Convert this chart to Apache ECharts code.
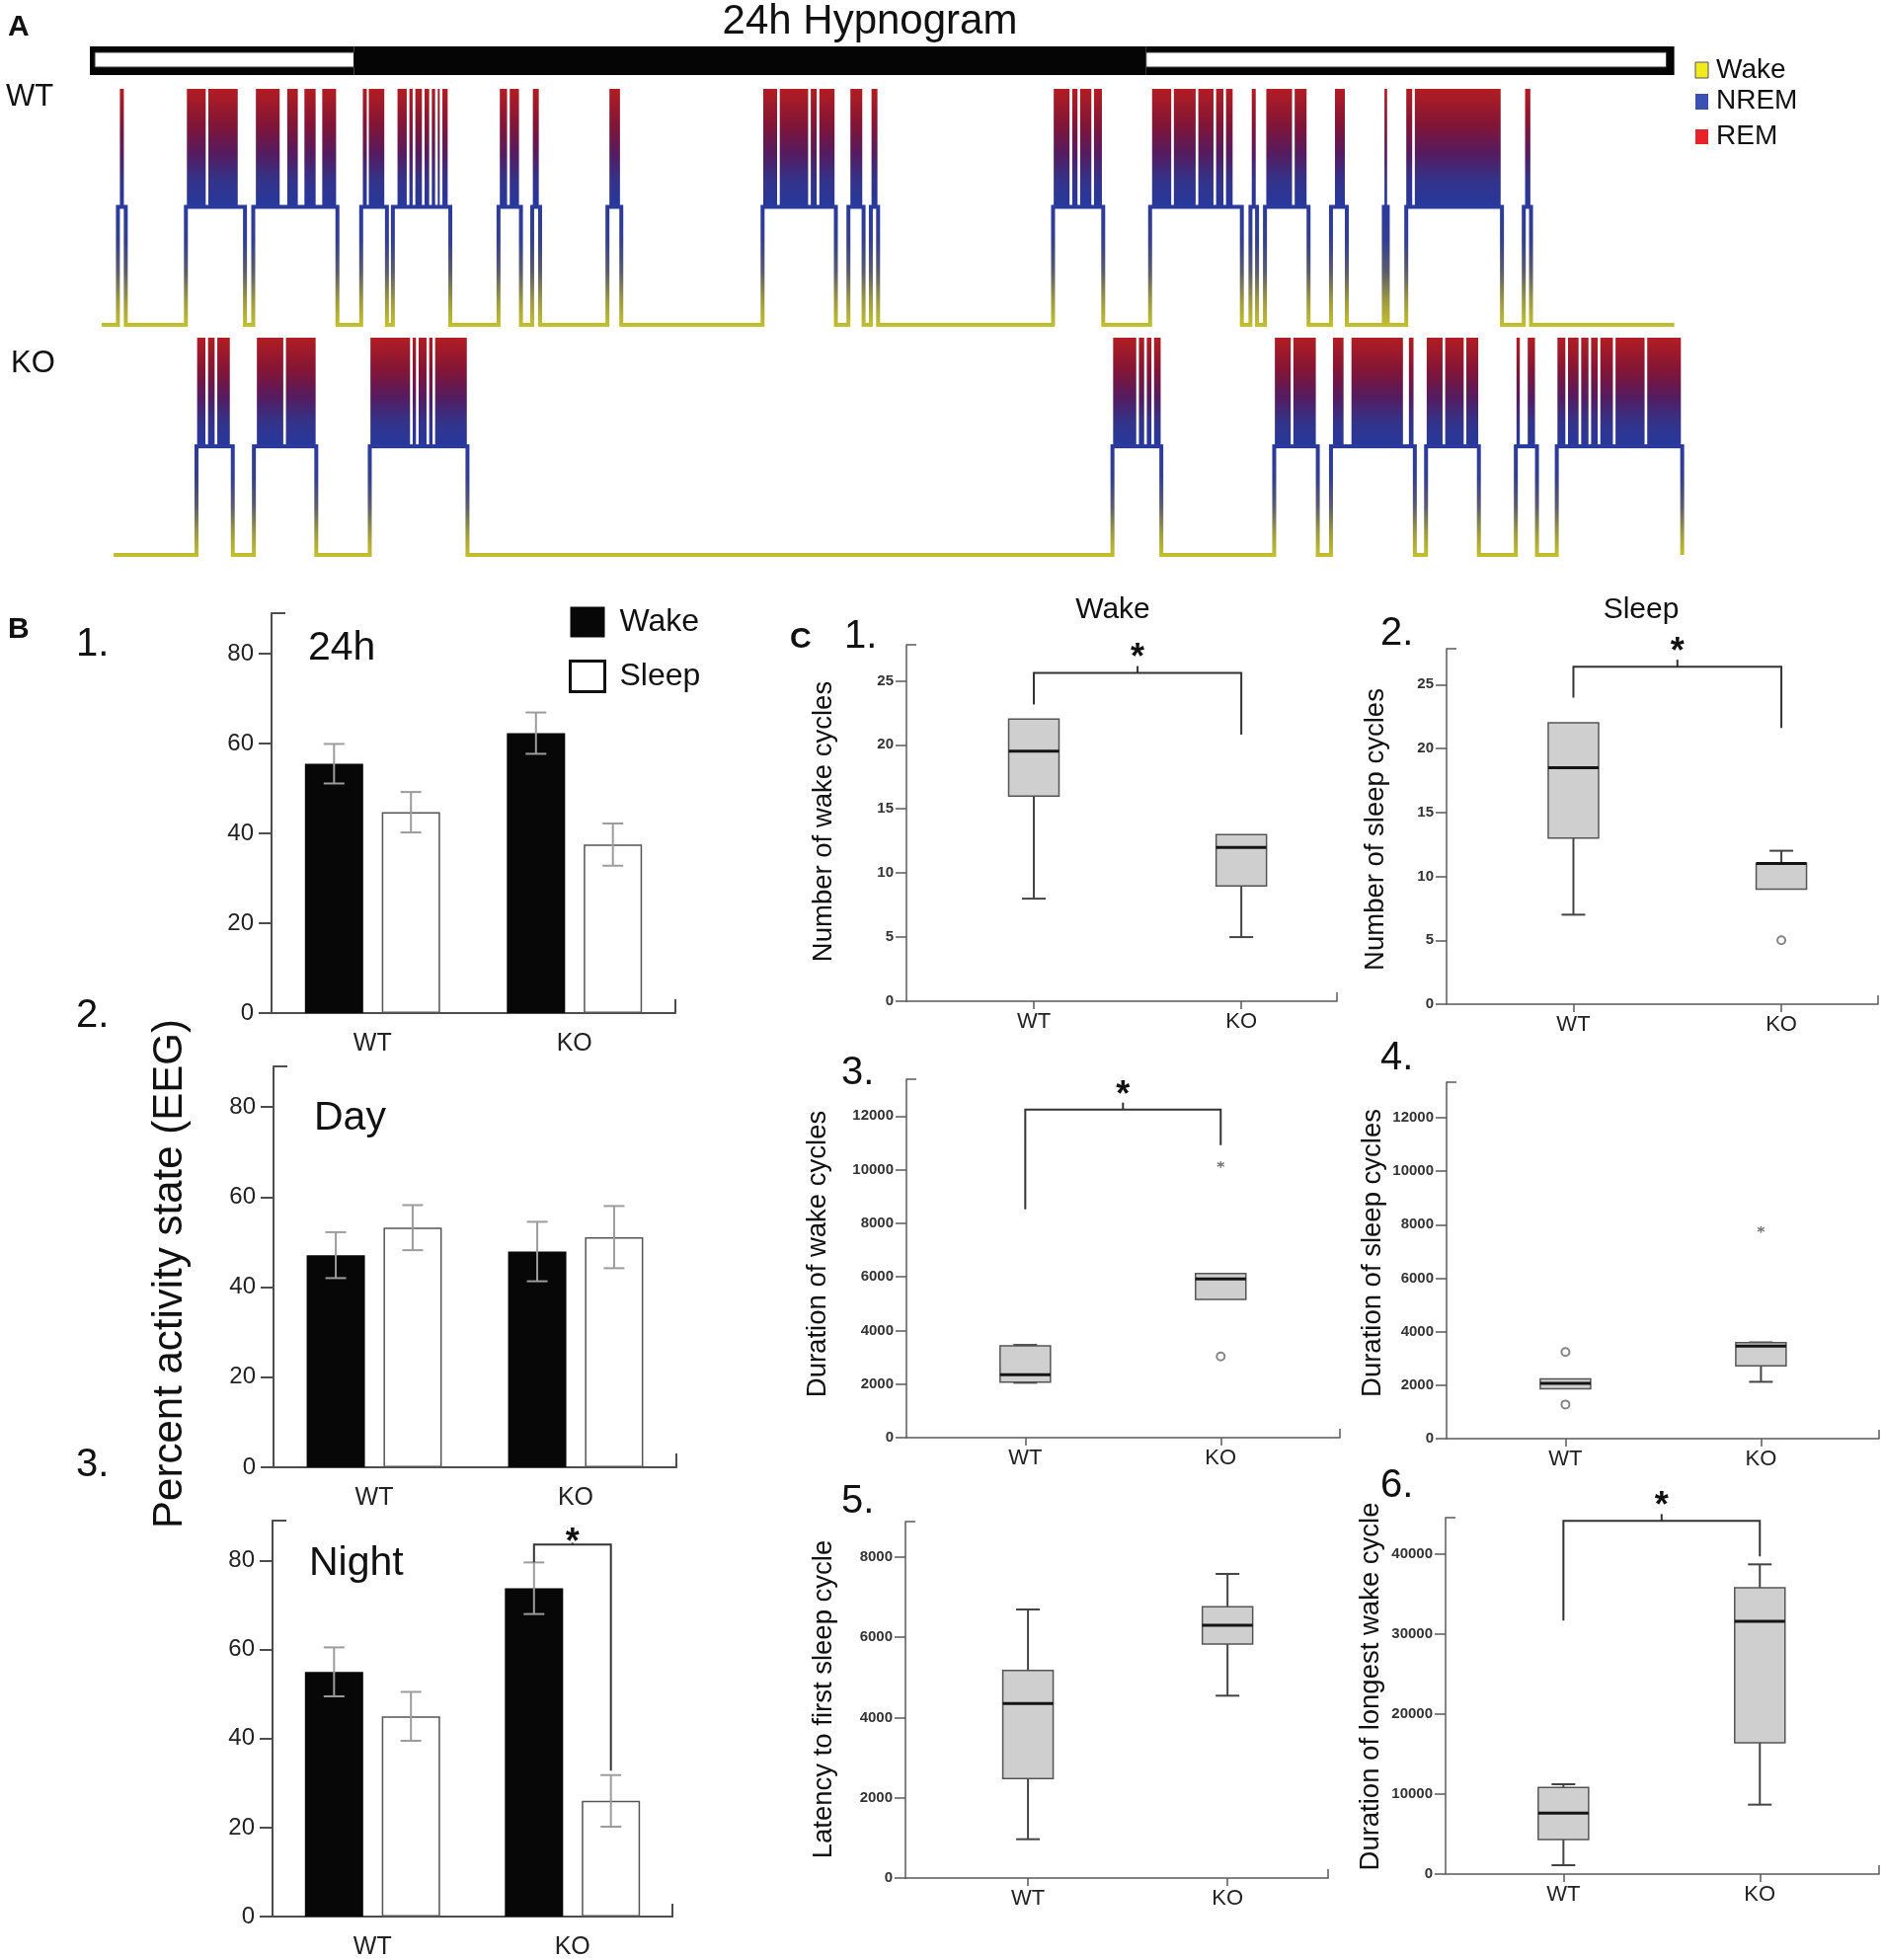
<!DOCTYPE html>
<html>
<head>
<meta charset="utf-8">
<title>24h Hypnogram</title>
<script src="https://cdn.jsdelivr.net/npm/echarts@6/dist/echarts.min.js"></script>
<style>
html, body { margin: 0; padding: 0; background: #fff; }
#fig { width: 1907px; height: 1985px; }
</style>
</head>
<body>
<div id="fig"></div>
<script>
// ---------- A: hypnogram, times in hours ----------
var photoperiod = [['light', 0, 4], ['dark', 4, 16], ['light', 16, 24]];

var wtRange = [0.18, 24.0];
// NREM bouts [start, end]; REM blocks sit on top of them
var wtBouts = [
  [0.425, 0.544], [1.455, 2.35], [2.475, 3.75], [4.11, 4.50], [4.59, 5.46],
  [6.19, 6.53], [6.70, 6.82], [7.84, 8.05], [10.19, 11.30], [11.49, 11.72],
  [11.83, 11.94], [14.59, 15.35], [16.06, 17.45], [17.58, 17.68], [17.80, 18.46],
  [18.80, 19.04], [19.60, 19.66], [19.94, 21.39], [21.72, 21.83]
];
var wtRem = [
  [0.455, 0.515],
  [1.47, 1.755], [1.795, 2.24],
  [2.515, 2.875], [2.99, 3.15], [3.25, 3.42], [3.52, 3.73],
  [4.135, 4.195], [4.225, 4.46],
  [4.66, 4.80], [4.84, 4.89], [4.93, 5.03], [5.07, 5.14], [5.18, 5.23], [5.27, 5.30], [5.34, 5.42],
  [6.21, 6.32], [6.36, 6.50],
  [6.71, 6.80],
  [7.87, 8.03],
  [10.20, 10.41], [10.45, 10.88], [10.92, 11.01], [11.05, 11.28],
  [11.52, 11.70],
  [11.84, 11.93],
  [14.60, 14.84], [14.88, 14.96], [15.00, 15.17], [15.21, 15.33],
  [16.09, 16.38], [16.42, 16.75], [16.79, 17.02], [17.06, 17.17], [17.21, 17.31],
  [17.60, 17.66],
  [17.82, 18.21], [18.25, 18.43],
  [18.86, 19.01],
  [19.61, 19.65],
  [19.94, 20.03], [20.07, 21.37],
  [21.74, 21.82]
];

var koRange = [0.36, 24.12];
var koBouts = [
  [1.615, 2.165], [2.485, 3.43], [4.24, 5.72], [15.49, 16.23], [17.94, 18.60],
  [18.80, 20.07], [20.24, 21.04], [21.60, 21.92], [22.22, 24.12]
];
var koRem = [
  [1.625, 1.75], [1.79, 1.89], [1.93, 2.12],
  [2.53, 2.93], [2.97, 3.42],
  [4.25, 4.85], [4.89, 4.94], [4.98, 5.10], [5.14, 5.19], [5.23, 5.71],
  [15.50, 15.85], [15.89, 15.97], [16.01, 16.08], [16.12, 16.22],
  [17.95, 18.19], [18.23, 18.57],
  [18.83, 18.99], [19.11, 19.89], [19.98, 20.05],
  [20.25, 20.49], [20.53, 20.81], [20.85, 21.03],
  [21.61, 21.66], [21.78, 21.89],
  [22.23, 22.35], [22.39, 22.55], [22.59, 22.70], [22.74, 22.84], [22.88, 23.07], [23.11, 23.55], [23.59, 24.10]
];

// ---------- B: percent activity state, mean and sem ----------
var groups = ['WT', 'KO'];
var b24Wake = [55.5, 62.3],  b24WakeSem = [4.4, 4.6];
var b24Sleep = [44.7, 37.5], b24SleepSem = [4.5, 4.7];
var bDayWake = [47.1, 47.9],  bDayWakeSem = [5.1, 6.6];
var bDaySleep = [53.2, 51.1], bDaySleepSem = [5.0, 6.9];
var bNightWake = [55.0, 73.8],  bNightWakeSem = [5.5, 5.8];
var bNightSleep = [45.0, 26.0], bNightSleepSem = [5.5, 5.8];
var bNightBracket = [79.6, 83.6, 32.8]; // KO wake end, top, KO sleep end

// ---------- C: box plots [min, q1, median, q3, max] ----------
var c1WT = [8, 16, 19.5, 22, 22],            c1KO = [5, 9, 12, 13, 13];
var c2WT = [7, 13, 18.5, 22, 22],            c2KO = [9, 9, 11, 11, 12];
var c3WT = [2050, 2075, 2350, 3426, 3460],   c3KO = [5160, 5160, 5920, 6130, 6130];
var c4WT = [1867, 1867, 2064, 2236, 2236],   c4KO = [2125, 2727, 3464, 3587, 3600];
var c5WT = [968, 2478, 4349, 5177, 6695],    c5KO = [4546, 5834, 6302, 6761, 7582];
var c6WT = [1110, 4317, 7605, 10813, 11224], c6KO = [8675, 16404, 31575, 35770, 38690];
var c2Outliers = [['KO', 5]];
var c3Outliers = [['KO', 3030]], c3Extremes = [['KO', 10190]];
var c4Outliers = [['WT', 3242], ['WT', 1278]], c4Extremes = [['KO', 7823]];
var c1Bracket = [23.15, 25.6, 20.8];
var c2Bracket = [23.97, 26.4, 21.6];
var c3Bracket = [8520, 12245, 10918];
var c6Bracket = [31660, 44115, 39675];

// ---------- layout ----------
var FONT = "'Liberation Sans', Arial, Helvetica, sans-serif";
var FAM = 'Liberation Sans';
var BAR_W = 59, BAR_GAP = 0.32;
var BAR_OFF = (BAR_W + BAR_W * BAR_GAP) / 2;

var hypGrids = [
  {left: 91, top: 47, width: 1618, height: 29},
  {left: 91, top: 90, width: 1618, height: 239},
  {left: 91, top: 342, width: 1618, height: 220}
];
var bGrids = [
  {left: 275, top: 621, width: 409, height: 405},
  {left: 277, top: 1080, width: 408, height: 406},
  {left: 276, top: 1540, width: 405, height: 402}
];
var cGrids = [
  {left: 918, top: 653, width: 436, height: 361},
  {left: 1465, top: 657, width: 437, height: 360},
  {left: 918, top: 1093, width: 439, height: 363},
  {left: 1465, top: 1096, width: 438, height: 361},
  {left: 917, top: 1541, width: 428, height: 361},
  {left: 1464, top: 1537, width: 439, height: 361}
];
// group axis extent for each C panel (group index units)
var cXRange = [[-0.614, 1.461], [-0.610, 1.465], [-0.608, 1.610], [-0.608, 1.604], [-0.614, 1.504], [-0.600, 1.607]];
var cMax = [27.8, 27.8, 13375, 13330, 8886, 44527];
var cStep = [5, 5, 2000, 2000, 2000, 10000];

function tickList(max, step) {
  var a = [];
  for (var v = 0; v <= max + 1e-9; v += step) a.push(v);
  return a;
}

var remGrad = function () {
  return new echarts.graphic.LinearGradient(0, 0, 0, 1, [
    {offset: 0, color: '#b21d22'}, {offset: 0.3, color: '#831536'},
    {offset: 0.55, color: '#561b5f'}, {offset: 0.78, color: '#333389'},
    {offset: 1, color: '#27389c'}
  ]);
};
var lineGrad = new echarts.graphic.LinearGradient(0, 0, 0, 1, [
  {offset: 0, color: '#2a3a9e'}, {offset: 0.3, color: '#34408e'},
  {offset: 0.55, color: '#5c5c6c'}, {offset: 0.8, color: '#a19d3e'},
  {offset: 1, color: '#c5c12d'}
]);

function traceLine(range, bouts) {
  var pts = [[range[0], 0]];
  bouts.forEach(function (b) {
    pts.push([b[0], 0], [b[0], 1], [b[1], 1], [b[1], 0]);
  });
  pts.push([range[1], 0]);
  return pts;
}

function remSeries(idx, blocks) {
  return {
    type: 'custom', xAxisIndex: idx, yAxisIndex: idx, silent: true, z: 2,
    data: blocks,
    renderItem: function (params, api) {
      var p0 = api.coord([api.value(0), 2]);
      var p1 = api.coord([api.value(1), 1]);
      return {
        type: 'rect',
        shape: {x: p0[0], y: p0[1], width: Math.max(p1[0] - p0[0], 1.5), height: p1[1] - p0[1] - 1},
        style: {fill: remGrad()}
      };
    }
  };
}

function traceSeries(idx, range, bouts) {
  return {
    type: 'line', xAxisIndex: idx, yAxisIndex: idx, silent: true, z: 3,
    data: traceLine(range, bouts), symbol: 'none', animation: false,
    lineStyle: {width: 4, color: lineGrad, join: 'miter'}
  };
}

function errRows(mean, sem, slot) {
  return mean.map(function (m, i) { return [i, m, sem[i], slot]; });
}

function errSeries(idx, rows) {
  return {
    type: 'custom', xAxisIndex: idx, yAxisIndex: idx, silent: true, z: 4,
    data: rows,
    renderItem: function (params, api) {
      var cat = api.value(0), m = api.value(1), s = api.value(2), slot = api.value(3);
      var x = api.coord([cat, m])[0] + (slot === 0 ? -BAR_OFF : BAR_OFF);
      var yt = api.coord([cat, m + s])[1], yb = api.coord([cat, m - s])[1];
      var st = {stroke: '#9c9c9c', lineWidth: 2, fill: 'none'};
      return {type: 'group', children: [
        {type: 'line', shape: {x1: x, y1: yt, x2: x, y2: yb}, style: st},
        {type: 'line', shape: {x1: x - 10.5, y1: yt, x2: x + 10.5, y2: yt}, style: st},
        {type: 'line', shape: {x1: x - 10.5, y1: yb, x2: x + 10.5, y2: yb}, style: st}
      ]};
    }
  };
}

function barPair(idx, wake, sleep) {
  return [
    {type: 'bar', name: 'Wake', xAxisIndex: idx, yAxisIndex: idx, data: wake,
      barWidth: BAR_W, barGap: (BAR_GAP * 100) + '%', silent: true,
      itemStyle: {color: '#070707'}},
    {type: 'bar', name: 'Sleep', xAxisIndex: idx, yAxisIndex: idx, data: sleep,
      barWidth: BAR_W, barGap: (BAR_GAP * 100) + '%', silent: true,
      itemStyle: {color: '#ffffff', borderColor: '#555', borderWidth: 1.5}}
  ];
}

function boxSeries(idx, wt, ko) {
  return {
    type: 'custom', xAxisIndex: idx, yAxisIndex: idx, silent: true, z: 3,
    data: [[0].concat(wt), [1].concat(ko)],
    renderItem: function (params, api) {
      var cat = api.value(0);
      var v = [1, 2, 3, 4, 5].map(function (d) { return api.value(d); });
      var x = api.coord([cat, 0])[0];
      var y = v.map(function (val) { return api.coord([cat, val])[1]; });
      var hw = 25.5, cw = 12;
      var wl = {stroke: '#444', lineWidth: 2, fill: 'none'};
      var ch = [];
      if (v[4] > v[3]) {
        ch.push({type: 'line', shape: {x1: x, y1: y[3], x2: x, y2: y[4]}, style: wl});
        ch.push({type: 'line', shape: {x1: x - cw, y1: y[4], x2: x + cw, y2: y[4]}, style: wl});
      }
      if (v[0] < v[1]) {
        ch.push({type: 'line', shape: {x1: x, y1: y[1], x2: x, y2: y[0]}, style: wl});
        ch.push({type: 'line', shape: {x1: x - cw, y1: y[0], x2: x + cw, y2: y[0]}, style: wl});
      }
      ch.push({type: 'rect', shape: {x: x - hw, y: y[3], width: 2 * hw, height: y[1] - y[3]},
        style: {fill: '#cfcfcf', stroke: '#555', lineWidth: 1.5}});
      ch.push({type: 'line', shape: {x1: x - hw, y1: y[2], x2: x + hw, y2: y[2]},
        style: {stroke: '#141414', lineWidth: 3, fill: 'none'}});
      return {type: 'group', children: ch};
    }
  };
}

function catRows(list) {
  return list.map(function (p) { return [groups.indexOf(p[0]), p[1]]; });
}

function outlierSeries(idx, list) {
  return {
    type: 'scatter', xAxisIndex: idx, yAxisIndex: idx, silent: true, z: 4,
    data: catRows(list), symbol: 'emptyCircle', symbolSize: 8,
    itemStyle: {color: '#666', borderWidth: 1.5}
  };
}

function extremeSeries(idx, list) {
  return {
    type: 'scatter', xAxisIndex: idx, yAxisIndex: idx, silent: true, z: 4,
    data: catRows(list),
    symbol: 'path://M0,-5L0,5M-4.33,-2.5L4.33,2.5M-4.33,2.5L4.33,-2.5',
    symbolSize: 7,
    itemStyle: {color: 'transparent', borderColor: '#555', borderWidth: 1.3}
  };
}

// bracket row: [left end, top, right end]; offsets shift arms off the group centre
function bracketSeries(idx, row, leftCat, rightCat, offL, offR, tick, starLift) {
  return {
    type: 'custom', xAxisIndex: idx, yAxisIndex: idx, silent: true, z: 5,
    data: [[leftCat].concat(row)],
    renderItem: function (params, api) {
      var xl = api.coord([leftCat, 0])[0] + offL;
      var xr = api.coord([rightCat, 0])[0] + offR;
      var yl = api.coord([leftCat, api.value(1)])[1];
      var yt = api.coord([leftCat, api.value(2)])[1];
      var yr = api.coord([leftCat, api.value(3)])[1];
      var xm = (xl + xr) / 2;
      var st = {stroke: '#333', lineWidth: 2, fill: 'none'};
      return {type: 'group', children: [
        {type: 'polyline', shape: {points: [[xl, yl], [xl, yt], [xr, yt], [xr, yr]]}, style: st},
        {type: 'line', shape: {x1: xm, y1: yt, x2: xm, y2: yt - tick}, style: st},
        {type: 'text', x: xm, y: yt - starLift,
          style: {text: '*', font: 'bold 36px ' + FONT, fill: '#111', align: 'center', verticalAlign: 'middle'}}
      ]};
    }
  };
}

function txt(text, x, y, size, opt) {
  opt = opt || {};
  return {
    type: 'text', x: x, y: y, rotation: opt.rot || 0, silent: true,
    style: {
      text: text, fill: opt.color || '#111',
      font: (opt.weight || 'normal') + ' ' + size + 'px ' + FONT,
      align: opt.align || 'left', verticalAlign: 'middle'
    }
  };
}

function frameMarks(g, stub, end, color, w) {
  var st = {stroke: color, lineWidth: w};
  return [
    {type: 'line', silent: true, shape: {x1: g.left, y1: g.top, x2: g.left + stub, y2: g.top}, style: st},
    {type: 'line', silent: true, shape: {x1: g.left + g.width, y1: g.top + g.height,
      x2: g.left + g.width, y2: g.top + g.height - end}, style: st}
  ];
}

// ---------- axes ----------
var grids = [], xAxes = [], yAxes = [];
hypGrids.forEach(function (g, i) {
  grids.push(g);
  xAxes.push({type: 'value', gridIndex: i, min: 0, max: 24.2, show: false});
  yAxes.push({type: 'value', gridIndex: i, min: 0, max: i === 0 ? 1 : 2, show: false});
});
var bAxisStyle = {color: '#4d4d4d', width: 2};
bGrids.forEach(function (g, i) {
  var gi = grids.length;
  grids.push(g);
  xAxes.push({
    type: 'category', gridIndex: gi, data: groups,
    axisLine: {lineStyle: bAxisStyle},
    axisTick: {alignWithLabel: true, length: 13, lineStyle: bAxisStyle},
    axisLabel: {fontSize: 25, color: '#222', margin: 19, fontFamily: FAM}
  });
  yAxes.push({
    type: 'value', gridIndex: gi, min: 0, max: 89, interval: 20,
    axisLine: {show: true, lineStyle: bAxisStyle},
    axisTick: {show: true, length: 13, lineStyle: bAxisStyle, customValues: tickList(80, 20)},
    axisLabel: {fontSize: 24, color: '#222', margin: 18, fontFamily: FAM, customValues: tickList(80, 20)},
    splitLine: {show: false}
  });
});
var cAxisStyle = {color: '#5a5a5a', width: 1.5};
var groupTicks = groups.map(function (g, i) { return i; });
cGrids.forEach(function (g, i) {
  var gi = grids.length;
  grids.push(g);
  xAxes.push({
    type: 'value', gridIndex: gi, min: cXRange[i][0], max: cXRange[i][1],
    axisLine: {onZero: false, lineStyle: cAxisStyle},
    axisTick: {show: true, length: 8, lineStyle: cAxisStyle, customValues: groupTicks},
    axisLabel: {fontSize: 22, color: '#222', margin: 10, fontFamily: FAM, customValues: groupTicks,
      formatter: function (v) { return groups[Math.round(v)] || ''; }},
    splitLine: {show: false}
  });
  var ticks = tickList(cMax[i], cStep[i]);
  yAxes.push({
    type: 'value', gridIndex: gi, min: 0, max: cMax[i], interval: cStep[i],
    axisLine: {show: true, onZero: false, lineStyle: cAxisStyle},
    axisTick: {show: true, length: 11, lineStyle: cAxisStyle, customValues: ticks},
    axisLabel: {fontSize: 15, fontWeight: 'bold', color: '#333', margin: 13, fontFamily: FAM,
      customValues: ticks, formatter: function (v) { return String(v); }},
    splitLine: {show: false}
  });
});

// ---------- series ----------
var series = [];
series.push({
  type: 'custom', xAxisIndex: 0, yAxisIndex: 0, silent: true,
  data: photoperiod.map(function (p) { return [p[1], p[2], p[0] === 'light' ? 1 : 0]; }),
  renderItem: function (params, api) {
    var s = api.value(0), e = api.value(1), light = api.value(2);
    var p0 = api.coord([s, 1]), p1 = api.coord([e, 0]);
    var ch = [{type: 'rect', shape: {x: p0[0], y: p0[1], width: p1[0] - p0[0], height: p1[1] - p0[1]},
      style: {fill: '#050505'}}];
    if (light) {
      var l = p0[0] + (params.dataIndex === 0 ? 5 : 0);
      var r = p1[0] - (params.dataIndex === photoperiod.length - 1 ? 8 : 0);
      ch.push({type: 'rect', shape: {x: l, y: p0[1] + 6, width: r - l, height: p1[1] - p0[1] - 14},
        style: {fill: '#ffffff', stroke: '#333', lineWidth: 1}});
    }
    return {type: 'group', children: ch};
  }
});
series.push(remSeries(1, wtRem), traceSeries(1, wtRange, wtBouts));
series.push(remSeries(2, koRem), traceSeries(2, koRange, koBouts));

var bSets = [
  [b24Wake, b24WakeSem, b24Sleep, b24SleepSem],
  [bDayWake, bDayWakeSem, bDaySleep, bDaySleepSem],
  [bNightWake, bNightWakeSem, bNightSleep, bNightSleepSem]
];
bSets.forEach(function (s, i) {
  var gi = 3 + i;
  series = series.concat(barPair(gi, s[0], s[2]));
  series.push(errSeries(gi, errRows(s[0], s[1], 0).concat(errRows(s[2], s[3], 1))));
});
series.push(bracketSeries(5, bNightBracket, 1, 1, -BAR_OFF, BAR_OFF, 2, 1));

var cSets = [[c1WT, c1KO], [c2WT, c2KO], [c3WT, c3KO], [c4WT, c4KO], [c5WT, c5KO], [c6WT, c6KO]];
cSets.forEach(function (s, i) { series.push(boxSeries(6 + i, s[0], s[1])); });
series.push(outlierSeries(7, c2Outliers));
series.push(outlierSeries(8, c3Outliers), extremeSeries(8, c3Extremes));
series.push(outlierSeries(9, c4Outliers), extremeSeries(9, c4Extremes));
series.push(bracketSeries(6, c1Bracket, 0, 1, 0, 0, 7, 14));
series.push(bracketSeries(7, c2Bracket, 0, 1, 0, 0, 7, 14));
series.push(bracketSeries(8, c3Bracket, 0, 1, 0, 0, 7, 14));
series.push(bracketSeries(11, c6Bracket, 0, 1, 0, 0, 7, 14));

// ---------- text and decorations ----------
var graphics = [
  txt('A', 8, 28, 30, {weight: 'bold'}),
  txt('24h Hypnogram', 881, 22, 42, {align: 'center'}),
  txt('WT', 6, 98, 31),
  txt('KO', 11, 368, 31),
  {type: 'rect', silent: true, shape: {x: 1717, y: 63, width: 13, height: 16}, style: {fill: '#f2ea1c', stroke: '#555', lineWidth: 1}},
  {type: 'rect', silent: true, shape: {x: 1717, y: 95, width: 13, height: 16}, style: {fill: '#3b50b5'}},
  {type: 'rect', silent: true, shape: {x: 1717, y: 131, width: 13, height: 15}, style: {fill: '#e82229'}},
  txt('Wake', 1738, 71, 28),
  txt('NREM', 1738, 102, 28),
  txt('REM', 1738, 138, 28),

  txt('B', 8, 638, 30, {weight: 'bold'}),
  txt('1.', 77, 653, 40), txt('2.', 77, 1029, 40), txt('3.', 77, 1484, 40),
  txt('24h', 312, 657, 41), txt('Day', 318, 1133, 41), txt('Night', 313, 1584, 41),
  txt('Percent activity state (EEG)', 172, 1290, 42, {align: 'center', rot: Math.PI / 2}),

  txt('C', 800, 648, 30, {weight: 'bold'}),
  txt('1.', 855, 645, 40), txt('2.', 1398, 642, 40),
  txt('3.', 852, 1087, 40), txt('4.', 1398, 1072, 40),
  txt('5.', 852, 1521, 40), txt('6.', 1398, 1505, 40),
  txt('Wake', 1127, 618, 30, {align: 'center'}),
  txt('Sleep', 1662, 618, 30, {align: 'center'}),
  txt('Number of wake cycles', 834, 832, 27.5, {align: 'center', rot: Math.PI / 2}),
  txt('Number of sleep cycles', 1393, 840, 27.5, {align: 'center', rot: Math.PI / 2}),
  txt('Duration of wake cycles', 828, 1270, 27.5, {align: 'center', rot: Math.PI / 2}),
  txt('Duration of sleep cycles', 1390, 1269, 27.5, {align: 'center', rot: Math.PI / 2}),
  txt('Latency to first sleep cycle', 834, 1721, 27.5, {align: 'center', rot: Math.PI / 2}),
  txt('Duration of longest wake cycle', 1388, 1708, 27.5, {align: 'center', rot: Math.PI / 2})
];
bGrids.forEach(function (g) { graphics = graphics.concat(frameMarks(g, 14, 14, '#4d4d4d', 2)); });
cGrids.forEach(function (g) { graphics = graphics.concat(frameMarks(g, 10, 9, '#5a5a5a', 1.5)); });

var chart = echarts.init(document.getElementById('fig'), null, {renderer: 'canvas'});
chart.setOption({
  animation: false,
  backgroundColor: '#ffffff',
  textStyle: {fontFamily: FAM},
  legend: {
    data: [{name: 'Wake'}, {name: 'Sleep', itemStyle: {borderColor: '#111', borderWidth: 3}}],
    orient: 'vertical', left: 576, top: 614, padding: 0, itemWidth: 35, itemHeight: 31, itemGap: 22,
    icon: 'rect', selectedMode: false,
    textStyle: {fontSize: 32, color: '#111', fontFamily: FAM, padding: [0, 0, 0, 10]}
  },
  grid: grids,
  xAxis: xAxes,
  yAxis: yAxes,
  series: series,
  graphic: graphics
});
</script>
</body>
</html>
